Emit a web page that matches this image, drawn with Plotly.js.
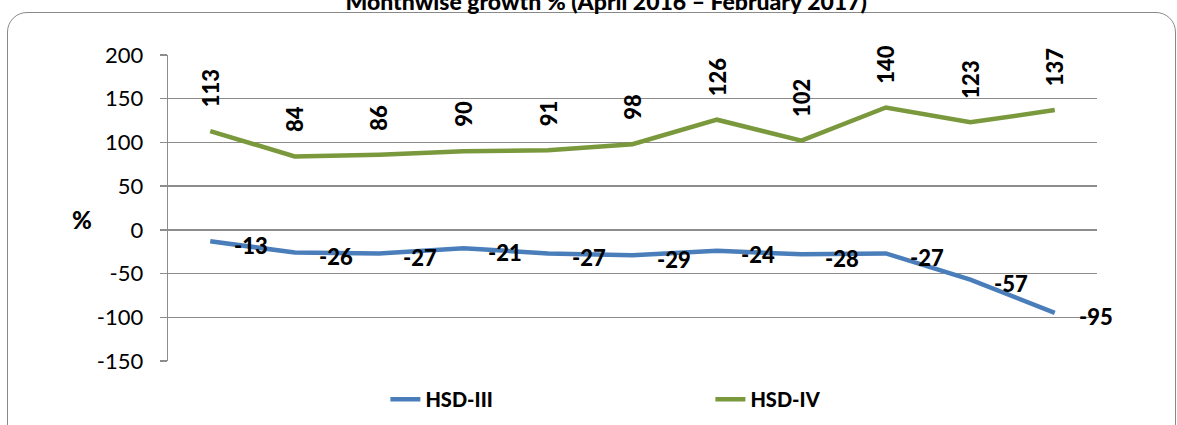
<!DOCTYPE html>
<html>
<head>
<meta charset="utf-8">
<script src="https://cdn.plot.ly/plotly-3.0.1.min.js"></script>
<style>
html,body{margin:0;padding:0;background:#fff;overflow:hidden;}
#frame{position:absolute;left:7px;top:12px;width:1169px;height:440px;border:1.5px solid #8a8a8a;border-radius:20px;box-sizing:border-box;}
#chart{position:absolute;left:0;top:0;width:1177px;height:425px;}
</style>
</head>
<body>
<div id="frame"></div>
<div id="chart"></div>
<script>
const months = ['Apr-16','May-16','Jun-16','Jul-16','Aug-16','Sep-16','Oct-16','Nov-16','Dec-16','Jan-17','Feb-17'];
const hsd3 = [-13,-26,-27,-21,-27,-29,-24,-28,-27,-57,-95];
const hsd4 = [113,84,86,90,91,98,126,102,140,123,137];
const yTicks = [-150,-100,-50,0,50,100,150,200];

const FONT = 'Lato, "Open Sans", sans-serif';
const blue = '#4A7EBB';
const green = '#7A983C';

const traces = [
  {x: months, y: hsd3, name: 'HSD-III', type: 'scatter', mode: 'lines',
   line: {color: blue, width: 4.5}},
  {x: months, y: hsd4, name: 'HSD-IV', type: 'scatter', mode: 'lines',
   line: {color: green, width: 4.5}}
];

const annotations = [];
months.forEach((m, i) => {
  annotations.push({x: m, y: hsd4[i], xref: 'x', yref: 'y', text: String(hsd4[i]),
    textangle: -90, showarrow: false, xanchor: 'center', yanchor: 'bottom', yshift: 22,
    font: {family: FONT, size: 22, color: '#000', weight: 900}});
  annotations.push({x: m, y: hsd3[i], xref: 'x', yref: 'y', text: String(hsd3[i]),
    showarrow: false, xanchor: 'left', yanchor: 'middle', xshift: 22, yshift: -4,
    font: {family: FONT, size: 22, color: '#000', weight: 900}});
});
annotations.push({x: -0.093, y: 0, xref: 'paper', yref: 'y', text: '%', showarrow: false,
  xanchor: 'center', yanchor: 'middle', yshift: 10,
  font: {family: FONT, size: 24, color: '#000', weight: 900}});

const layout = {
  width: 1177, height: 425,
  margin: {l: 168, r: 80, t: 55, b: 64, autoexpand: false},
  paper_bgcolor: 'rgba(0,0,0,0)', plot_bgcolor: 'rgba(0,0,0,0)',
  title: {text: 'Monthwise growth % (April 2016 – February 2017)', x: 0.515, xanchor: 'center',
    y: 0.995, yref: 'container', yanchor: 'middle',
    font: {family: FONT, size: 23, color: '#000', weight: 900}},
  xaxis: {type: 'category', range: [-0.5, 10.5], showticklabels: false, showgrid: false, zeroline: false,
    showline: false, ticks: '', fixedrange: true},
  yaxis: {range: [-150, 200], tickvals: yTicks, ticktext: yTicks.map(String),
    showgrid: true, gridcolor: '#8c8c8c', gridwidth: 1.3, zeroline: false,
    showline: true, linecolor: '#8c8c8c', linewidth: 1.3,
    ticks: 'outside', ticklen: 7, tickcolor: '#8c8c8c', tickwidth: 1.3,
    ticklabelstandoff: 12,
    tickfont: {family: FONT, size: 22, color: '#000'}},
  showlegend: true,
  legend: {orientation: 'h', x: 0.234, xanchor: 'left', y: -0.125, yanchor: 'middle',
    entrywidth: 280, entrywidthmode: 'pixels',
    font: {family: FONT, size: 20, color: '#000', weight: 900}, bgcolor: 'rgba(0,0,0,0)'},
  annotations: annotations
};

Plotly.newPlot('chart', traces, layout, {displayModeBar: false, staticPlot: true});
</script>
</body>
</html>
